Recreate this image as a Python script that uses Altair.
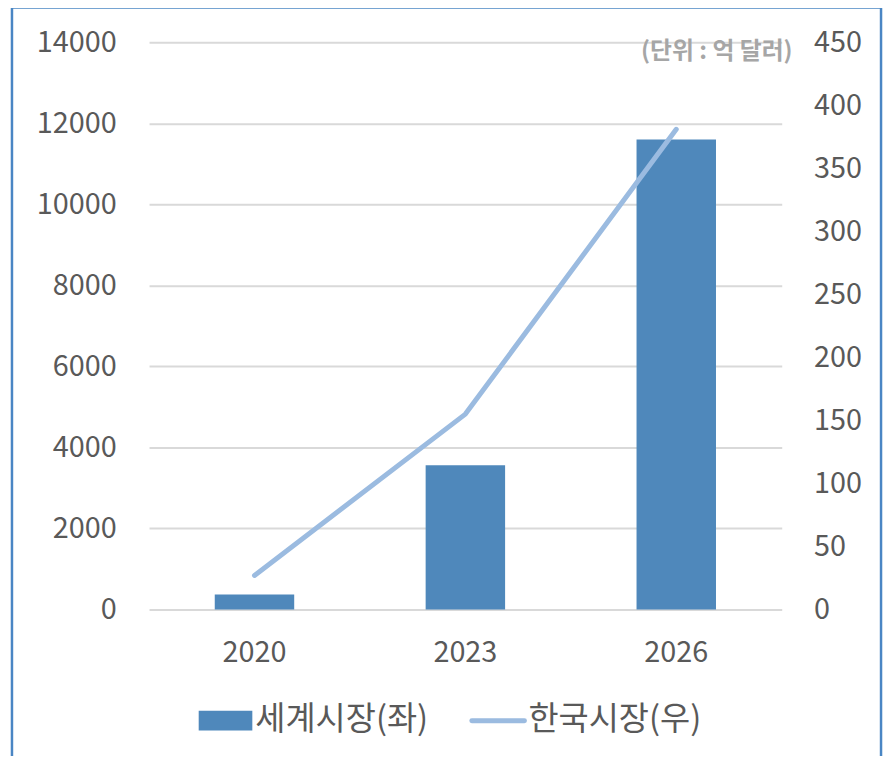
import altair as alt
import pandas as pd

years = ["2020", "2023", "2026"]
world = [370, 3560, 11600]      # 세계시장(좌), 억 달러
korea = [27, 155, 381]          # 한국시장(우), 억 달러
left_ticks = [0, 2000, 4000, 6000, 8000, 10000, 12000, 14000]
right_ticks = [0, 50, 100, 150, 200, 250, 300, 350, 400, 450]
legend_labels = ["세계시장(좌)", "한국시장(우)"]
unit_label = "(단위 : 억 달러)"

df = pd.DataFrame({"year": years, "world": world, "korea": korea})

FONT = "Noto Sans CJK KR"
TXT = "#595959"
BAR = "#4f88bb"
LINE = "#9bbbe0"

x_axis = alt.Axis(labelAngle=0, ticks=False, domain=False, grid=False,
                  labelFontSize=29, labelColor=TXT, labelFont=FONT,
                  labelPadding=29)
x_scale = alt.Scale(paddingInner=0, paddingOuter=0)

bars = alt.Chart(df).mark_bar(size=80, color=BAR).encode(
    x=alt.X("year:N", sort=years, title=None, scale=x_scale, axis=x_axis),
    y=alt.Y("world:Q", title=None,
            scale=alt.Scale(domain=[0, 14000], nice=False),
            axis=alt.Axis(orient="left", values=left_ticks, format="d", ticks=False,
                          domain=False, grid=True, gridColor="#d9d9d9", gridWidth=2,
                          labelFontSize=29, labelColor=TXT, labelFont=FONT,
                          labelPadding=33)),
)

line = alt.Chart(df).mark_line(color=LINE, strokeWidth=5, strokeCap="round",
                                strokeJoin="round").encode(
    x=alt.X("year:N", sort=years, title=None, scale=x_scale, axis=x_axis),
    y=alt.Y("korea:Q", title=None,
            scale=alt.Scale(domain=[0, 450], nice=False),
            axis=alt.Axis(orient="right", values=right_ticks, format="d", ticks=False,
                          domain=False, grid=False,
                          labelFontSize=29, labelColor=TXT, labelFont=FONT,
                          labelPadding=32)),
)

one = alt.Data(values=[{"a": 1}])

unit = alt.Chart(one).mark_text(text=unit_label, align="right", baseline="middle",
                                fontSize=24, fontWeight="bold", color="#a6a6a6",
                                font=FONT).encode(
    x=alt.value(648), y=alt.value(10))

leg_rect = alt.Chart(one).mark_rect(color=BAR).encode(
    x=alt.value(50), x2=alt.value(104), y=alt.value(673), y2=alt.value(693))
leg_text1 = alt.Chart(one).mark_text(text=legend_labels[0], align="left",
                                     baseline="middle", fontSize=33, color=TXT,
                                     font=FONT).encode(
    x=alt.value(107), y=alt.value(682))
leg_line = alt.Chart(one).mark_rule(color=LINE, strokeWidth=5, strokeCap="round").encode(
    x=alt.value(325), x2=alt.value(378), y=alt.value(683))
leg_text2 = alt.Chart(one).mark_text(text=legend_labels[1], align="left",
                                     baseline="middle", fontSize=33, color=TXT,
                                     font=FONT).encode(
    x=alt.value(382), y=alt.value(682))

border = alt.Chart(one).mark_rect(filled=False, stroke="#4a86c4", strokeWidth=2.5).encode(
    x=alt.value(-138), x2=alt.value(737), y=alt.value(-35), y2=alt.value(800))

chart = alt.layer(bars, line, unit, leg_rect, leg_text1, leg_line, leg_text2, border).resolve_scale(
    y="independent"
).properties(
    width=637, height=571,
    background="white",
    autosize=alt.AutoSizeParams(type="none"),
    padding={"left": 142, "top": 32, "right": 104, "bottom": 145},
).configure_view(stroke="transparent", strokeWidth=0)

chart.save("out.html", embed_options={"renderer": "svg", "actions": False})
